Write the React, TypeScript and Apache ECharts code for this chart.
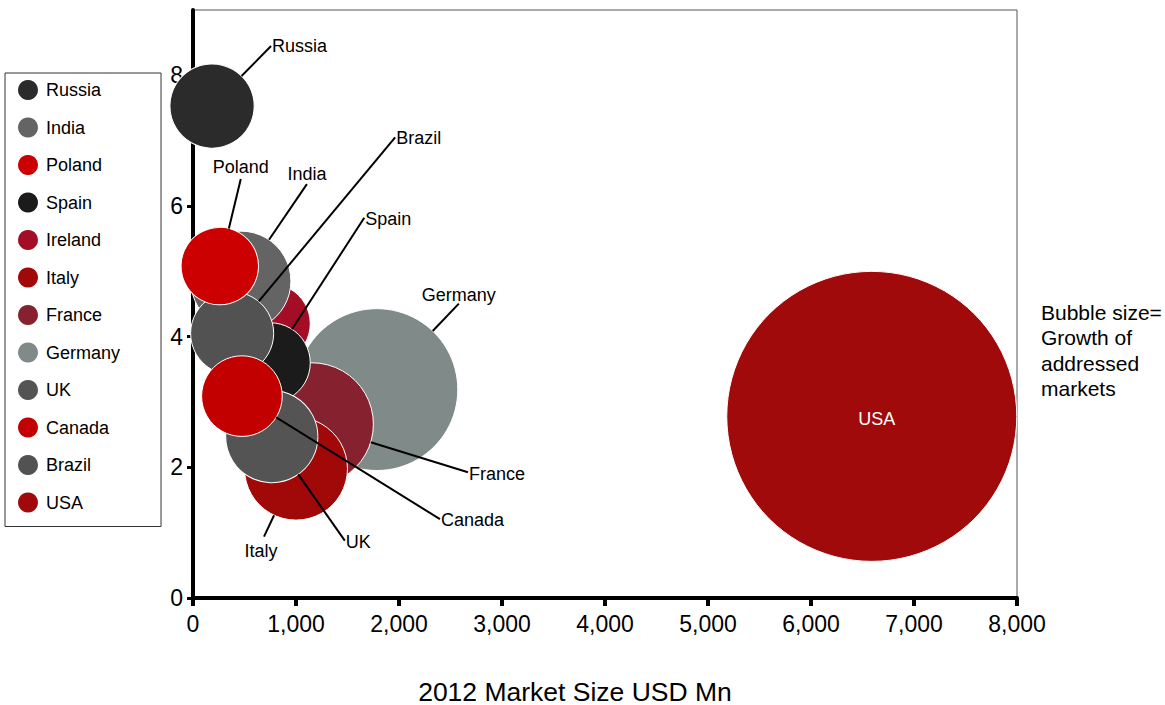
import React, { useEffect, useRef } from "react";
import * as echarts from "echarts";

// Countries in legend order
const countries = ["Russia", "India", "Poland", "Spain", "Ireland", "Italy", "France", "Germany", "UK", "Canada", "Brazil", "USA"];
// 2012 market size, USD Mn (x)
const marketSize = [185, 465, 260, 750, 750, 1000, 1155, 1785, 765, 475, 380, 6590];
// Vertical position of each market (y)
const yValues = [7.53, 4.85, 5.08, 3.6, 4.2, 1.98, 2.66, 3.19, 2.47, 3.09, 4.05, 2.78];
// Growth of addressed markets (bubble area)
const growth = [71, 100, 60, 64, 64, 106, 151, 262, 85, 65, 69, 841];
const colors = ["#2b2b2b", "#646464", "#cc0000", "#1b1b1b", "#a30e26", "#a10808", "#86222f", "#7f8a89", "#545454", "#c20000", "#525252", "#a00a0a"];

// Stacking order of the bubbles, bottom first
const drawOrder = ["Germany", "France", "Italy", "USA", "Russia", "Ireland", "India", "Spain", "UK", "Brazil", "Poland", "Canada"];

const yTickValues = [0, 2, 4, 6, 8];

const FONT = "Liberation Sans, Arial, Helvetica, sans-serif";

// Leader-line end relative to bubble centre (px) and text offset from that end
type Placement = { dx: number; dy: number; tx: number; ty: number; align: "left" | "center" | "right"; inside?: boolean };
const labelPlacement: Record<string, Placement | null> = {
  Russia: { dx: 59, dy: -60, tx: 1, ty: 0, align: "left" },
  India: { dx: 66, dy: -97, tx: 0, ty: -10, align: "center" },
  Poland: { dx: 21, dy: -87, tx: 0, ty: -12, align: "center" },
  Spain: { dx: 94, dy: -145, tx: 1, ty: 1, align: "left" },
  Ireland: null,
  Italy: { dx: -32, dy: 68, tx: -3, ty: 14, align: "center" },
  France: { dx: 156, dy: 48, tx: 1, ty: 2, align: "left" },
  Germany: { dx: 82, dy: -86, tx: 0, ty: -9, align: "center" },
  UK: { dx: 73, dy: 104, tx: 1, ty: 1, align: "left" },
  Canada: { dx: 198, dy: 123, tx: 1, ty: 1, align: "left" },
  Brazil: { dx: 163, dy: -196, tx: 1, ty: 1, align: "left" },
  USA: { dx: 0, dy: 0, tx: 5, ty: 3, align: "center", inside: true },
};

const bubbleDiameter = (g: number) => 10 * Math.sqrt(g);

export default function App() {
  const ref = useRef<HTMLDivElement>(null);

  useEffect(() => {
    if (!ref.current) return;
    const chart = echarts.init(ref.current, undefined, { renderer: "svg" });

    const bubbleSeries = drawOrder.map((name) => {
      const i = countries.indexOf(name);
      return {
        name,
        type: "scatter",
        data: [[marketSize[i], yValues[i], growth[i]]],
        symbolSize: (v: number[]) => bubbleDiameter(v[2]),
        itemStyle: { color: colors[i], borderColor: "#ffffff", borderWidth: 1, opacity: 1 },
        emphasis: { disabled: true },
        silent: true,
      };
    });

    const labelSeries = {
      type: "custom",
      z: 10,
      silent: true,
      encode: { x: 0, y: 1 },
      data: countries.map((_, i) => [marketSize[i], yValues[i], growth[i]]),
      renderItem: (params: any, api: any) => {
        const i = params.dataIndex;
        const name = countries[i];
        const p = labelPlacement[name];
        if (!p) return { type: "group", children: [] };
        const c = api.coord([api.value(0), api.value(1)]);
        if (p.inside) {
          return {
            type: "text",
            x: c[0] + p.tx,
            y: c[1] + p.ty,
            style: { text: name, fill: "#ffffff", fontSize: 18, fontFamily: FONT, align: "center", verticalAlign: "middle" },
          };
        }
        const r = bubbleDiameter(api.value(2)) / 2;
        const len = Math.hypot(p.dx, p.dy);
        const ex = c[0] + p.dx;
        const ey = c[1] + p.dy;
        return {
          type: "group",
          children: [
            {
              type: "line",
              shape: { x1: c[0] + (p.dx / len) * r, y1: c[1] + (p.dy / len) * r, x2: ex, y2: ey },
              style: { stroke: "#000000", lineWidth: 2 },
            },
            {
              type: "text",
              x: ex + p.tx,
              y: ey + p.ty,
              style: { text: name, fill: "#000000", fontSize: 18, fontFamily: FONT, align: p.align, verticalAlign: "middle" },
            },
          ],
        };
      },
    };

    chart.setOption({
      animation: false,
      backgroundColor: "#ffffff",
      textStyle: { fontFamily: FONT },
      grid: {
        left: 193,
        right: 148,
        top: 10,
        bottom: 107,
        outerBoundsMode: "none",
        containLabel: false,
        show: true,
        borderColor: "#555555",
        borderWidth: 1,
      },
      legend: {
        data: countries,
        orient: "vertical",
        left: 5,
        top: 73,
        icon: "circle",
        itemWidth: 26,
        itemHeight: 20,
        itemGap: 17.5,
        padding: [7, 41, 14, 13],
        borderColor: "#333333",
        borderWidth: 1,
        itemStyle: { borderWidth: 0 },
        selectedMode: false,
        textStyle: { fontSize: 18, color: "#000000", fontFamily: FONT },
      },
      xAxis: {
        type: "value",
        min: 0,
        max: 8000,
        interval: 1000,
        name: "2012 Market Size USD Mn",
        nameLocation: "middle",
        nameGap: 80,
        nameTextStyle: { fontSize: 26.5, color: "#000000", fontFamily: FONT, padding: [0, 60, 0, 0] },
        axisLine: { lineStyle: { color: "#000000", width: 4 } },
        axisTick: { length: 8, lineStyle: { color: "#000000", width: 4 } },
        axisLabel: {
          fontSize: 23,
          color: "#000000",
          margin: 14,
          formatter: (v: number) => v.toLocaleString("en-US"),
        },
        splitLine: { show: false },
      },
      yAxis: {
        type: "value",
        min: 0,
        max: 9,
        interval: 2,
        axisLine: { lineStyle: { color: "#000000", width: 4 } },
        axisTick: { length: 6, lineStyle: { color: "#000000", width: 3 }, customValues: yTickValues },
        axisLabel: { fontSize: 23, color: "#000000", margin: 10, customValues: yTickValues },
        splitLine: { show: false },
      },
      graphic: [
        {
          type: "text",
          left: 1041,
          top: 300,
          style: {
            text: "Bubble size=\nGrowth of\naddressed\nmarkets",
            fontSize: 21,
            lineHeight: 25.3,
            fontFamily: FONT,
            fill: "#000000",
          },
        },
      ],
      series: [...bubbleSeries, labelSeries],
    });

    return () => chart.dispose();
  }, []);

  return <div ref={ref} style={{ position: "absolute", left: 0, top: 0, width: 1165, height: 705 }} />;
}
